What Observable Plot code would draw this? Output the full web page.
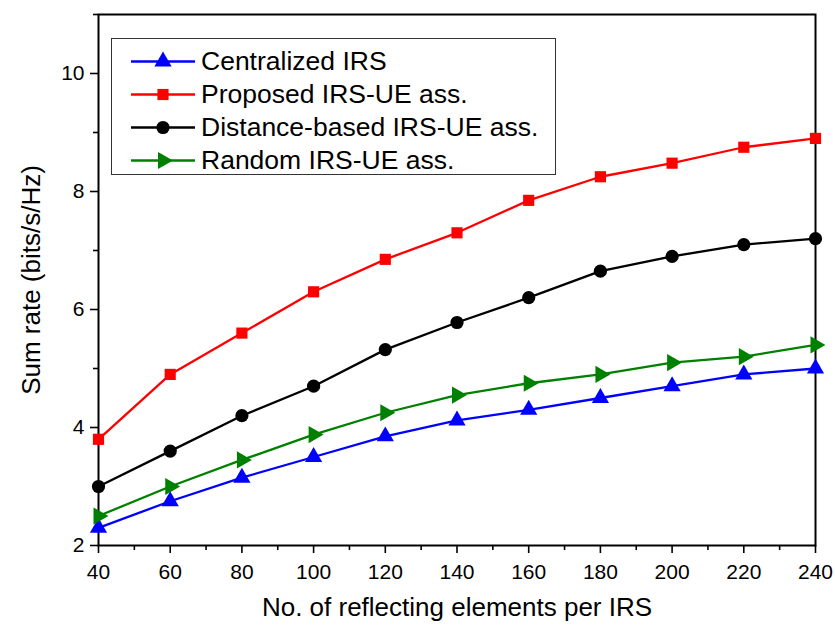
<!DOCTYPE html>
<html><head><meta charset="utf-8">
<script src="https://cdn.jsdelivr.net/npm/d3@7"></script>
<script src="https://cdn.jsdelivr.net/npm/@observablehq/plot@0.6"></script>
<style>
body{margin:0;background:#fff;}
#wrap{position:relative;width:835px;height:628px;font-family:"Liberation Sans",Arial,sans-serif;}
#legend{position:absolute;left:111px;top:38px;width:445px;height:137px;border:1px solid #333;background:#fff;box-sizing:border-box;}
.row{position:absolute;left:0;height:33px;display:flex;align-items:center;}
.row span{font-size:26.5px;color:#000;margin-left:6px;line-height:33px;}
</style></head>
<body><div id="wrap"><div id="legend"></div></div>
<script>
const elements = [40, 60, 80, 100, 120, 140, 160, 180, 200, 220, 240];
const centralized = [2.3, 2.75, 3.15, 3.5, 3.85, 4.12, 4.3, 4.5, 4.7, 4.9, 5.0];
const proposed = [3.8, 4.9, 5.6, 6.3, 6.85, 7.3, 7.85, 8.25, 8.48, 8.75, 8.9];
const distance = [3.0, 3.6, 4.2, 4.7, 5.32, 5.78, 6.2, 6.65, 6.9, 7.1, 7.2];
const random = [2.5, 3.0, 3.45, 3.88, 4.25, 4.55, 4.75, 4.9, 5.1, 5.2, 5.4];
const seriesNames = ["Centralized IRS", "Proposed IRS-UE ass.", "Distance-based IRS-UE ass.", "Random IRS-UE ass."];
const colors = ["#0000ff", "#ff0000", "#000000", "#008000"];
const xTicks = [40, 60, 80, 100, 120, 140, 160, 180, 200, 220, 240];
const xMinor = [50, 70, 90, 110, 130, 150, 170, 190, 210, 230];
const yTicks = [2, 4, 6, 8, 10];
const yMinor = [3, 5, 7, 9, 11];

const triRight = {draw(ctx, size){
  const y = -Math.sqrt(size / (Math.sqrt(3) * 3));
  ctx.moveTo(-y * 2, 0);
  ctx.lineTo(y, -Math.sqrt(3) * y);
  ctx.lineTo(y, Math.sqrt(3) * y);
  ctx.closePath();
}};
const symbols = [d3.symbolTriangle, d3.symbolSquare, d3.symbolCircle, triRight];
const radii = [6.4, 6.3, 6.6, 6.4];
const allSeries = [centralized, proposed, distance, random];
const data = [];
allSeries.forEach((vals, i) => vals.forEach((v, j) => data.push({x: elements[j], y: v, s: seriesNames[i]})));

const marks = [
  Plot.frame({stroke: "#000", strokeWidth: 2}),
  Plot.axisX({ticks: xTicks, tickSize: 8, tickPadding: 11, strokeWidth: 1.6, fontSize: 21,
    label: "No. of reflecting elements per IRS", labelAnchor: "center", labelArrow: "none", labelOffset: 70}),
  Plot.axisX({ticks: xMinor, tickSize: 5, strokeWidth: 1.6, tickFormat: () => "", label: null}),
  Plot.axisY({ticks: yTicks, tickSize: 8, tickPadding: 6, strokeWidth: 1.6, fontSize: 21,
    label: "Sum rate (bits/s/Hz)", labelAnchor: "center", labelArrow: "none", labelOffset: 77}),
  Plot.axisY({ticks: yMinor, tickSize: 5, strokeWidth: 1.6, tickFormat: () => "", label: null})
];
seriesNames.forEach((name, i) => {
  const d = data.filter(r => r.s === name);
  marks.push(Plot.line(d, {x: "x", y: "y", stroke: colors[i], strokeWidth: 2.3}));
  marks.push(Plot.dot(d, {x: "x", y: "y", fill: colors[i], stroke: "none", symbol: symbols[i], r: radii[i]}));
});

const chart = Plot.plot({
  width: 835, height: 628,
  marginLeft: 98, marginRight: 20, marginTop: 14, marginBottom: 83,
  style: {fontFamily: "'Liberation Sans', Arial, sans-serif", fontSize: "21px", color: "#000", background: "#fff"},
  x: {domain: [40, 240]},
  y: {domain: [2, 11]},
  marks
});
chart.querySelectorAll('g[aria-label$="tick label"] text').forEach(t => t.style.fontSize = "21px");
chart.querySelectorAll('g[aria-label$="axis label"] text').forEach(t => t.style.fontSize = "26px");
const wrap = document.getElementById("wrap");
wrap.insertBefore(chart, wrap.firstChild);

const legend = document.getElementById("legend");
seriesNames.forEach((name, i) => {
  const row = document.createElement("div");
  row.className = "row";
  row.style.top = (6 + i * 33) + "px";
  row.style.left = "19px";
  const r = radii[i];
  const size = Math.PI * r * r;
  const path = d3.symbol(symbols[i], size)();
  row.innerHTML = `<svg width="64" height="33"><line x1="0" x2="64" y1="16.5" y2="16.5" stroke="${colors[i]}" stroke-width="2.3"/><path transform="translate(32,16.5)" d="${path}" fill="${colors[i]}"/></svg><span>${name}</span>`;
  legend.appendChild(row);
});
</script></body></html>
